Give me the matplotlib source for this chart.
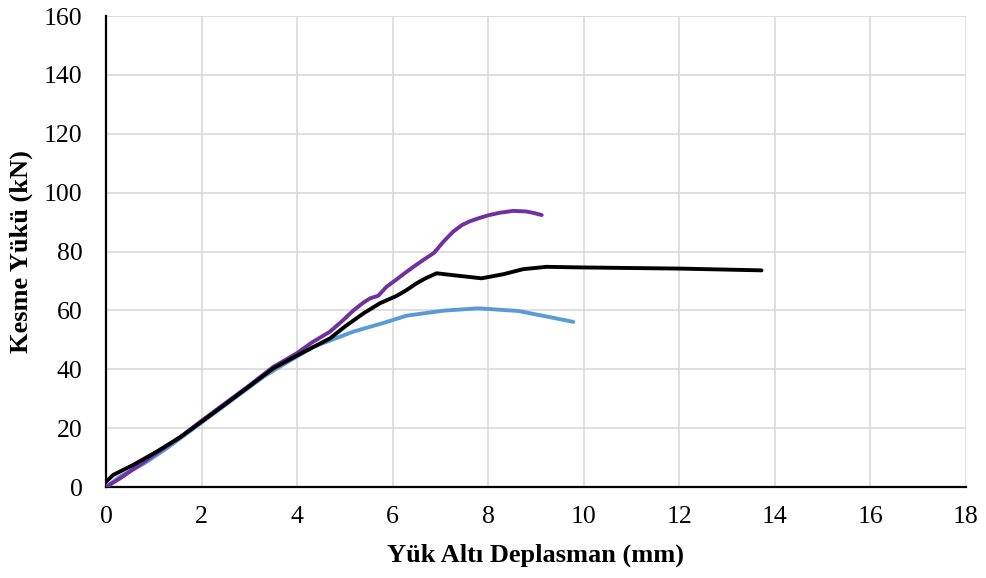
import matplotlib
matplotlib.use("Agg")
from matplotlib import pyplot as plt

# purple series
purple_x = [0.0, 0.3, 0.7, 1.1, 1.6, 2.0, 2.5, 3.0, 3.5, 3.64, 4.0, 4.3, 4.69, 4.95, 5.18,
            5.4, 5.53, 5.70, 5.87, 6.08, 6.29, 6.47, 6.64, 6.87, 7.06, 7.27, 7.45, 7.62,
            7.8, 8.0, 8.25, 8.52, 8.80, 8.95, 9.12]
purple_y = [0.0, 3.0, 7.5, 12.0, 17.5, 22.5, 28.5, 34.5, 40.8, 42.1, 45.5, 49.0, 52.8, 56.5, 60.0,
            62.8, 64.1, 65.0, 68.0, 70.5, 73.1, 75.2, 77.1, 79.6, 83.3, 86.8, 89.0, 90.3,
            91.3, 92.3, 93.2, 93.8, 93.6, 93.1, 92.4]

# black series
black_x = [0.0, 0.15, 0.57, 1.06, 1.55, 2.0, 2.52, 2.94, 3.5, 4.06, 4.69, 5.0, 5.39, 5.73,
           6.08, 6.3, 6.50, 6.7, 6.92, 7.41, 7.86, 8.32, 8.73, 9.22, 9.92, 12.01, 13.72]
black_y = [1.8, 4.1, 7.5, 12.0, 16.9, 22.2, 28.4, 33.5, 40.3, 45.2, 50.5, 54.5, 59.0, 62.4,
           64.9, 67.0, 69.2, 71.0, 72.6, 71.7, 70.9, 72.3, 74.0, 74.8, 74.6, 74.2, 73.6]

# blue series
blue_x = [0.0, 0.29, 0.8, 1.3, 1.8, 2.3, 2.8, 3.3, 3.64, 4.34, 5.18, 5.8, 6.29, 7.06, 7.79,
          8.63, 9.2, 9.78]
blue_y = [0.0, 3.5, 8.0, 13.5, 19.5, 25.5, 31.5, 37.5, 40.9, 47.6, 52.8, 55.7, 58.2, 59.9, 60.7,
          59.8, 58.0, 56.1]

x_ticks = [0, 2, 4, 6, 8, 10, 12, 14, 16, 18]
y_ticks = [0, 20, 40, 60, 80, 100, 120, 140, 160]


def main():
    plt.rcParams['font.family'] = ['Liberation Serif', 'DejaVu Serif']
    fig = plt.figure(figsize=(9.86, 5.78), dpi=100)
    ax = fig.add_axes([0.1075, 0.1574, 0.8722, 0.8149])

    ax.plot(blue_x, blue_y, color='#5B9BD5', lw=2.8, solid_capstyle='round', zorder=3)
    ax.plot(purple_x, purple_y, color='#7030A0', lw=2.8, solid_capstyle='round', zorder=4)
    ax.plot(black_x, black_y, color='black', lw=2.8, solid_capstyle='round', zorder=5)

    ax.set_xlim(0, 18)
    ax.set_ylim(0, 160)
    ax.set_xticks(x_ticks)
    ax.set_yticks(y_ticks)
    ax.tick_params(length=0, labelsize=18.5)
    ax.tick_params(axis='x', pad=14)
    ax.tick_params(axis='y', pad=17)
    ax.grid(True, color='#d9d9d9', lw=1.2)
    ax.set_axisbelow(True)
    for s in ['top', 'right']:
        ax.spines[s].set_visible(False)
    for s in ['left', 'bottom']:
        ax.spines[s].set_linewidth(1.6)
        ax.spines[s].set_color('black')

    ax.set_xlabel('Yük Altı Deplasman (mm)', fontsize=19, fontweight='bold', labelpad=11)
    ax.set_ylabel('Kesme Yükü (kN)', fontsize=19, fontweight='bold', labelpad=8)

    fig.savefig('out.png', dpi=100)


if __name__ == "__main__":
    main()
